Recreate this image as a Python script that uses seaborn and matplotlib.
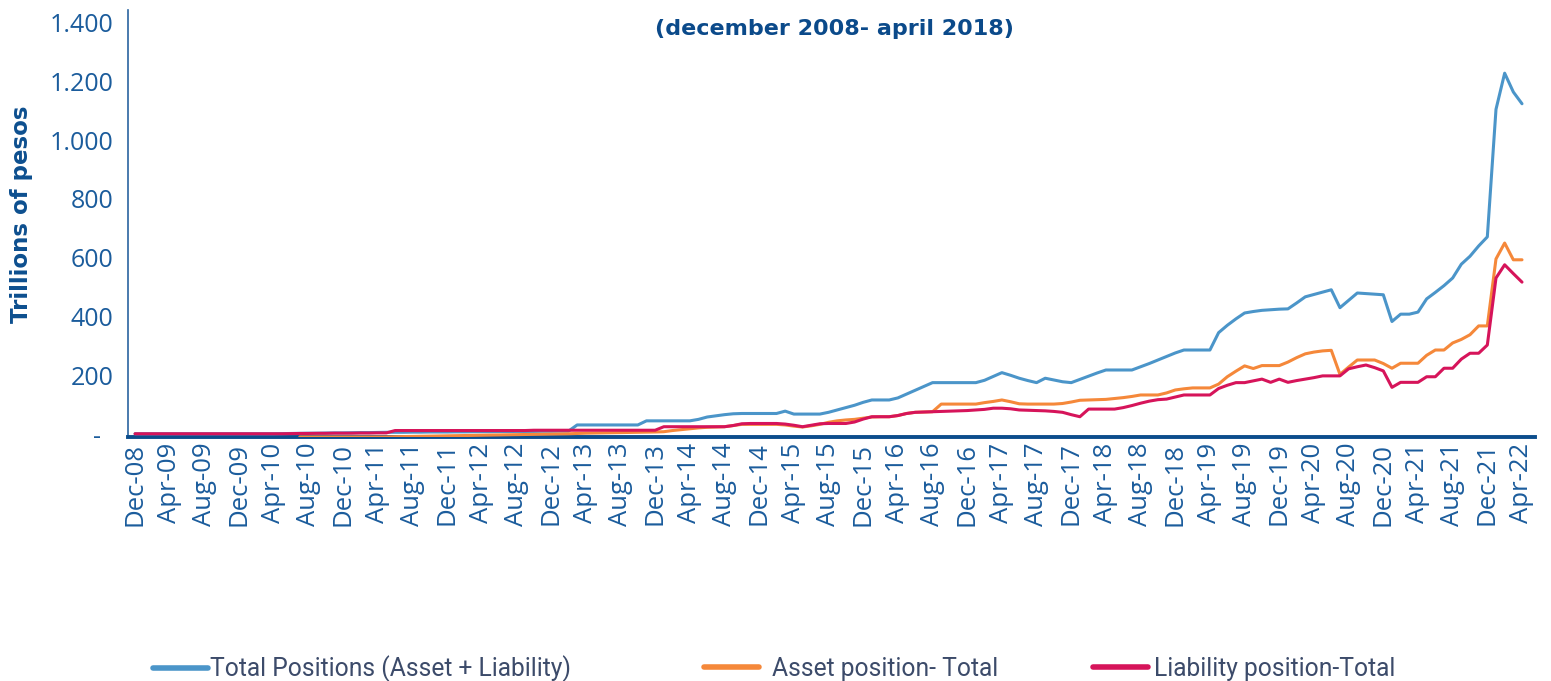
import numpy as np
import pandas as pd
import matplotlib
matplotlib.use("Agg")
import matplotlib.pyplot as plt
from matplotlib.lines import Line2D
import seaborn as sns

# ---------------- data (monthly, Dec-08 .. Apr-22) ----------------
months = pd.date_range("2008-12-01", "2022-04-01", freq="MS")

total_positions = [
    1, 1, 1, 1, 1, 1, 1, 1, 1, 1, 1, 1, 1, 1, 1, 1, 1,
    1.5, 2, 2.5, 3, 3, 3.5, 4, 4, 4.5, 5, 5, 5.5, 6,
    6, 6, 6.5, 6.5, 7, 7, 7, 7.5, 7.5, 8, 8, 8, 8.5, 8.5, 9, 9, 9, 9.5, 9.5, 10, 10,
    31, 31, 31, 31, 31, 31, 31, 31,
    45, 45, 45, 45, 45, 45,
    50, 58, 62, 66, 69,
    70, 70, 70, 70, 70,
    78, 68, 68, 68, 68,
    74, 82, 90, 98, 108, 116, 116, 116,
    123, 136, 149, 162, 175,
    175, 175, 175, 175, 175,
    183, 196, 209, 200, 190, 182, 175, 190, 184, 178, 175,
    186, 197, 208, 218, 218, 218, 218,
    229, 240, 252, 264, 276, 286, 286, 286, 286,
    345, 370, 392, 412, 417, 421, 423, 425, 426, 446, 467, 475, 483, 491, 430, 455,
    480, 478, 476, 474, 383, 408, 408, 415, 460, 482, 505, 531, 578, 605, 640, 671,
    1105, 1228, 1164, 1124,
]

asset_position = [
    np.nan] * 19 + [
    -10, -10, -10, -10, -10, -10, -10, -10, -10, -10, -10,
    -9, -8.5, -8, -7.5, -7, -6.5, -6, -5.5, -5, -4.5, -4, -3.5, -3, -2.5, -2, -1.5, -1, -0.5, 0, 0.5, 1,
    2, 3, 3.5, 4, 4.5, 5, 5.5, 6, 6.5, 7, 8,
    12, 15, 18, 21, 23, 24, 25, 29,
    33, 33, 33, 33, 33, 31, 27, 24, 28, 33, 40, 45, 48, 50, 54, 58, 59, 59, 63, 70, 74, 75, 76,
    102, 102, 102, 102, 102,
    107, 111, 116, 110, 103, 102, 102, 102, 102, 104, 109, 115, 116, 117, 118, 121, 124, 128,
    133, 133, 133, 140, 150, 154, 157, 157, 157,
    170, 195, 214, 232, 223, 233, 233, 233, 245, 260, 273, 279, 283, 285, 203, 228,
    252, 252, 252, 240, 224, 241, 241, 241, 268, 286, 286, 310, 322, 338, 368, 368,
    596, 650, 593, 593,
]

liability_position = [
    1, 1, 1, 1, 1, 1, 1, 1, 1, 1, 1, 1, 1, 1, 1, 1, 1,
    1, 1.5, 2, 2, 2.5, 2.5, 3, 3, 3, 3.5, 3.5, 4, 4,
    12, 12, 12, 12, 12, 12, 12, 12, 12, 12, 12, 12, 12, 12, 12, 12,
    13, 13, 13, 13, 13, 13, 13, 13, 13, 13, 13, 13, 13, 13, 13,
    25, 25, 25, 25, 25, 25, 25, 25,
    29, 35, 36, 36, 36, 36, 34, 30, 25, 30, 35, 36, 36, 36, 41, 51, 59, 59, 59,
    63, 70, 74, 75, 76, 77, 78, 79, 80, 82, 84, 88, 88, 86, 82, 81, 80, 79, 77, 74, 66, 59,
    85, 85, 85, 85, 90, 97, 105, 112, 117, 119, 126, 133, 133, 133, 133,
    155, 166, 175, 175, 181, 187, 176, 187, 176, 182, 187, 192, 198, 198, 198, 222,
    229, 235, 226, 215, 159, 176, 176, 176, 195, 195, 224, 224, 255, 275, 275, 303,
    531, 576, 546, 517,
]

series_names = ["Total Positions (Asset + Liability)", "Asset position- Total", "Liability position-Total"]
series_colors = ["#4b95c9", "#f5883a", "#d6145a"]

x_tick_labels = [m.strftime("%b-%y") for m in months[::4]]
y_tick_values = [0, 200, 400, 600, 800, 1000, 1200, 1400]
y_tick_labels = ["-  ", "200", "400", "600", "800", "1.000", "1.200", "1.400"]

title_text = "(december 2008- april 2018)"
y_label_text = "Trillions of pesos"

# ---------------- figure ----------------
sns.set_theme(style="white")
plt.rcParams["font.family"] = ["Open Sans", "DejaVu Sans"]

W, H = 1551, 681
fig = plt.figure(figsize=(W / 100, H / 100), dpi=100)
ax = fig.add_axes([127.5 / W, 1 - 437 / H, (1535 - 127.5) / W, (437 - 10) / H])

idx = np.arange(len(months))
df = pd.DataFrame({
    "idx": idx,
    series_names[0]: total_positions,
    series_names[1]: asset_position,
    series_names[2]: liability_position,
})

for name, col in zip(series_names, series_colors):
    sns.lineplot(data=df, x="idx", y=name, ax=ax, color=col, linewidth=2.2,
                 zorder=3, legend=False)

ax.set_xlim(-0.87, 161.5)
ax.set_ylim(-10, 1443)

tick_color = "#1b5c9c"
ax.set_xticks(idx[::4])
ax.set_xticklabels(x_tick_labels, rotation=90, fontsize=18.5, color=tick_color)
ax.set_yticks(y_tick_values)
ax.set_yticklabels(y_tick_labels, fontsize=18, color=tick_color)
ax.tick_params(axis="x", length=0, pad=4)
ax.tick_params(axis="y", length=0, pad=10)

ax.set_xlabel("")
ax.set_ylabel("")
for s in ["top", "right"]:
    ax.spines[s].set_visible(False)
ax.spines["left"].set_color("#2a64a0")
ax.spines["left"].set_linewidth(1.2)
ax.spines["bottom"].set_color("#0b4d8c")
ax.spines["bottom"].set_linewidth(2.8)
ax.grid(False)

fig.text(22 / W, 1 - 214 / H, y_label_text, rotation=90, ha="center", va="center",
         fontsize=16.5, fontweight="bold", color="#0d4f8f", family="DejaVu Sans")
fig.text(834 / W, 1 - 29 / H, title_text, ha="center", va="center",
         fontsize=16, fontweight="bold", color="#0b4a8a", family="DejaVu Sans")

# ---------------- legend ----------------
leg_x = [153, 704, 1093]
leg_pad = [0.08, 0.5, 0.24]
for name, col, lx, pad in zip(series_names, series_colors, leg_x, leg_pad):
    h = Line2D([], [], color=col, linewidth=4)
    fig.legend(handles=[h], labels=[name], loc="center left",
               bbox_to_anchor=(lx / W, 1 - 669 / H), frameon=False,
               handlelength=2.25, handletextpad=pad, borderpad=0, borderaxespad=0,
               prop={"family": ["Roboto", "DejaVu Sans"], "size": 17.7},
               labelcolor="#3c4b6a")

fig.savefig("out.png", dpi=100)
